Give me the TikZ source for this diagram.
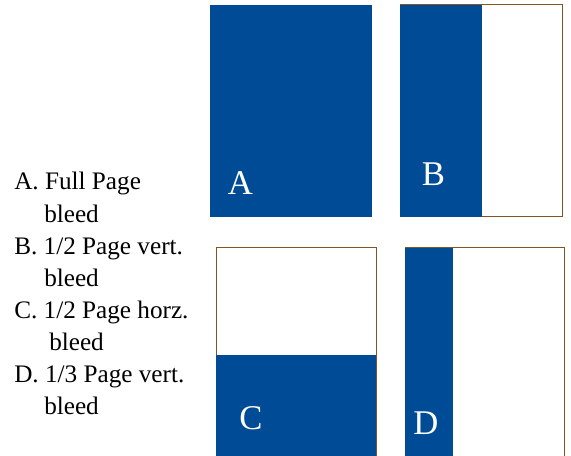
\documentclass[tikz,border=0pt]{standalone}
\usepackage{fontspec}
\setmainfont{Liberation Serif}
\usetikzlibrary{positioning}
\definecolor{bleedblue}{RGB}{0,75,150}
\definecolor{trimbrown}{RGB}{130,85,35}

\begin{document}
\begin{tikzpicture}[x=0.75pt,y=-0.75pt]

\tikzset{pagebox/.style={draw=trimbrown,line width=0.75pt},
bleedarea/.style={fill=bleedblue},
pageletter/.style={text=white,font=\fontsize{26}{26}\selectfont,inner sep=0pt,anchor=base west},
listitem/.style={font=\fontsize{18.9}{24}\selectfont,inner sep=0pt,anchor=base west}}

\useasboundingbox (0,0) rectangle (571,456);

% Page A: full page
\fill[bleedarea] (210,5) rectangle (372,217);
\node[pageletter] (letA) at (227.7,195) {A};

% Page B: half page vertical
\draw[pagebox] (400,5) rectangle (562.5,216.5);
\fill[bleedarea] (400,5) rectangle (482,216.5);
\node[pageletter] (letB) at (421.7,185.7) {B};

% Page C: half page horizontal
\draw[pagebox] (216.3,456) -- (216.3,247.7) -- (376,247.7) -- (376,456);
\fill[bleedarea] (216.3,355) rectangle (376,456);
\node[pageletter] (letC) at (239,429.3) {C};

% Page D: third page vertical
\draw[pagebox] (405.3,456) -- (405.3,247.7) -- (564.7,247.7) -- (564.7,456);
\fill[bleedarea] (405.3,247.7) rectangle (453,456);
\node[pageletter] (letD) at (413,434) {D};

% List of sizes
\node[listitem] (itemA) at (14,190) {A. Full Page};
\node[listitem] (bleedA) at (44,222.1) {bleed};
\node[listitem] (itemB) at (14,254.2) {B. 1/2 Page vert.};
\node[listitem] (bleedB) at (44,286.3) {bleed};
\node[listitem] (itemC) at (14,318.4) {C. 1/2 Page horz.};
\node[listitem] (bleedC) at (49,350.5) {bleed};
\node[listitem] (itemD) at (14,382.6) {D. 1/3 Page vert.};
\node[listitem] (bleedD) at (44,414.7) {bleed};

\end{tikzpicture}
\end{document}
